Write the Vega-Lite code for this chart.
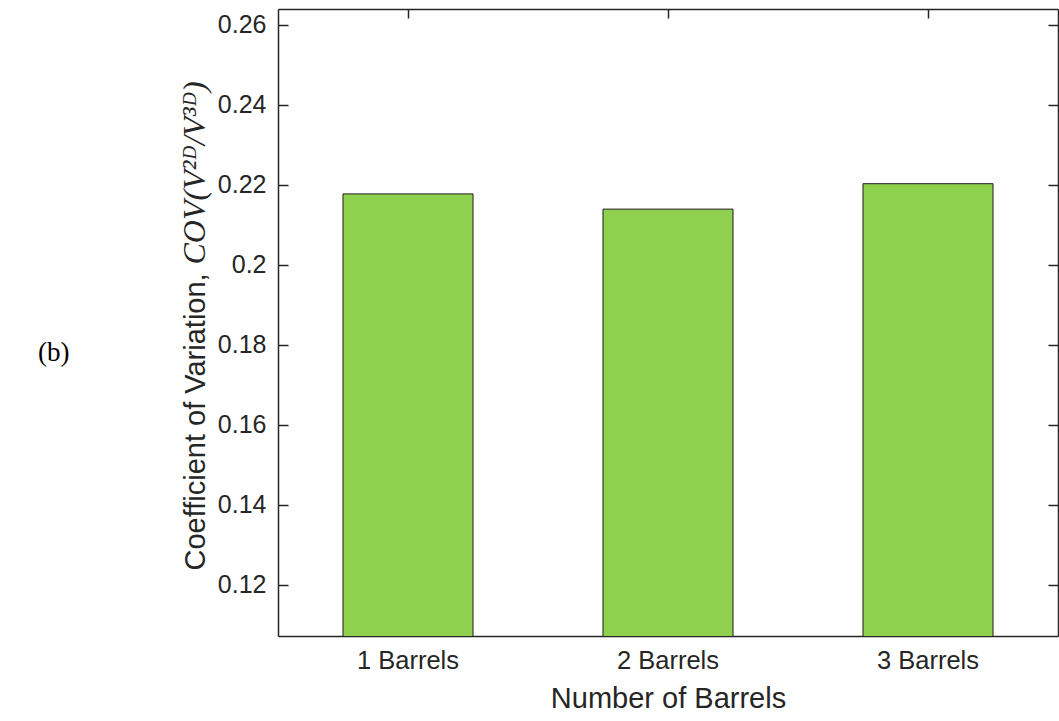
{
  "$schema": "https://vega.github.io/schema/vega-lite/v6.json",
  "autosize": {"type": "none"},
  "padding": {"left": 278, "top": 9, "right": 1, "bottom": 85},
  "width": 780,
  "height": 627,
  "background": "white",
  "title": {
    "text": "(b)",
    "orient": "left",
    "angle": 0,
    "anchor": "middle",
    "align": "right",
    "baseline": "middle",
    "font": "Liberation Serif",
    "fontSize": 27,
    "fontWeight": "normal",
    "color": "black",
    "offset": 77,
    "dy": 30
  },
  "data": {
    "values": [
      {"barrels": "1 Barrels", "cov": 0.2177},
      {"barrels": "2 Barrels", "cov": 0.2139},
      {"barrels": "3 Barrels", "cov": 0.22025}
    ]
  },
  "config": {
    "view": {"stroke": null},
    "axis": {
      "labelFont": "Liberation Sans",
      "titleFont": "Liberation Sans",
      "labelColor": "#262626",
      "titleColor": "#262626",
      "domainColor": "#262626",
      "tickColor": "#262626",
      "domainWidth": 1.5,
      "tickWidth": 1.5,
      "grid": false,
      "titleFontWeight": "normal"
    }
  },
  "resolve": {"axis": {"x": "independent", "y": "independent"}},
  "layer": [
    {
      "mark": {"type": "bar", "color": "#8fd14f", "stroke": "#1a1a1a", "strokeWidth": 1, "clip": true},
      "encoding": {
        "x": {
          "field": "barrels",
          "type": "nominal",
          "sort": null,
          "scale": {"paddingInner": 0.5, "paddingOuter": 0.25},
          "axis": {
            "orient": "bottom",
            "title": "Number of Barrels",
            "titleFontSize": 29,
            "labelFontSize": 25.5,
            "labelAngle": 0,
            "tickSize": -9,
            "labelPadding": 21,
            "titlePadding": 11
          }
        },
        "y": {
          "field": "cov",
          "type": "quantitative",
          "scale": {"domain": [0.10725, 0.2639], "nice": false, "zero": false},
          "axis": {
            "orient": "left",
            "values": [0.12, 0.14, 0.16, 0.18, 0.2, 0.22, 0.24, 0.26],
            "format": ".2~f",
            "labelFontSize": 25,
            "tickSize": -10,
            "labelPadding": 22,
            "title": "Coefficient of Variation,",
            "titleFontSize": 29,
            "titleAngle": -90,
            "titleAlign": "left",
            "titleBaseline": "alphabetic",
            "titleX": -74,
            "titleY": 561
          }
        }
      }
    },
    {
      "mark": {"type": "bar", "opacity": 0, "clip": true},
      "encoding": {
        "x": {
          "field": "barrels",
          "type": "nominal",
          "sort": null,
          "axis": {
            "orient": "top",
            "labels": false,
            "title": null,
            "tickSize": -9
          }
        },
        "y": {
          "field": "cov",
          "type": "quantitative",
          "axis": {
            "orient": "left",
            "labels": false,
            "ticks": false,
            "domain": false,
            "title": "COV(V²ᴰ/V³ᴰ)",
            "titleFont": "Liberation Serif",
            "titleFontStyle": "italic",
            "titleFontSize": 32,
            "titleAngle": -90,
            "titleAlign": "left",
            "titleBaseline": "alphabetic",
            "titleX": -74,
            "titleY": 255
          }
        }
      }
    },
    {
      "mark": {"type": "bar", "opacity": 0, "clip": true},
      "encoding": {
        "x": {"field": "barrels", "type": "nominal", "sort": null, "axis": null},
        "y": {
          "field": "cov",
          "type": "quantitative",
          "axis": {
            "orient": "right",
            "values": [0.12, 0.14, 0.16, 0.18, 0.2, 0.22, 0.24, 0.26],
            "labels": false,
            "title": null,
            "tickSize": -10
          }
        }
      }
    }
  ]
}
